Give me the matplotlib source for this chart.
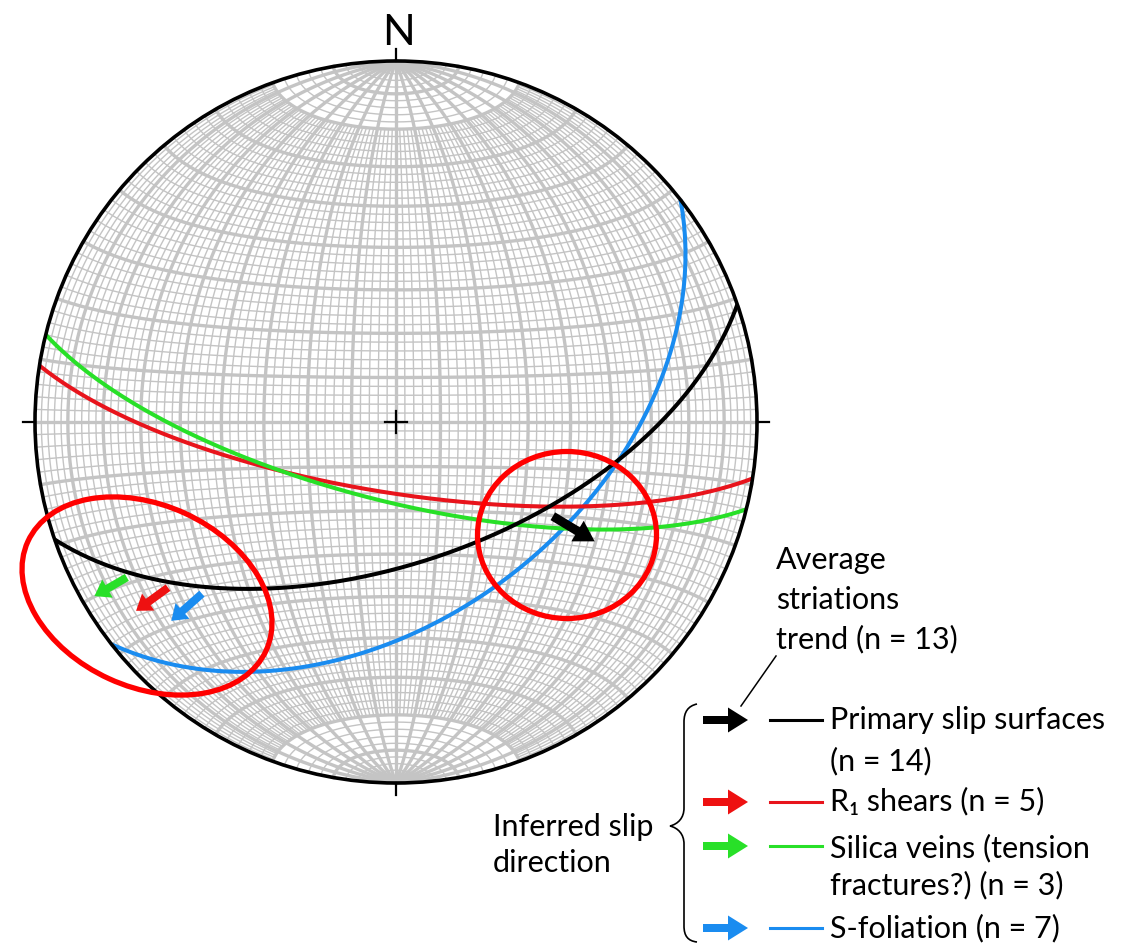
import numpy as np
import matplotlib
matplotlib.use('Agg')
import matplotlib.pyplot as plt
from matplotlib.patches import Ellipse, Circle, PathPatch
from matplotlib.path import Path

# planes: dip direction / dip (lower hemisphere, equal-area net)
plane_names = ['Primary slip surfaces', 'R1 shears', 'Silica veins', 'S-foliation']
plane_dipdir = [161, 189, 194, 142]
plane_dip = [58, 74, 72, 46]
plane_colors = ['#000000', '#e8141c', '#28e028', '#1a8cf0']

# slip arrows: trend, plunge at tail, plunge at head
avg_trend, avg_pl0, avg_pl1 = 121, 48, 36
slip_trend = [234, 240, 228.5]          # red, green, blue
slip_pl0 = [23, 15, 29]
slip_pl1 = [12, 4, 18]
slip_colors = ['#ee1111', '#28e028', '#1a8cf0']

legend_arrow_colors = ['#000000', '#ee1111', '#28e028', '#1a8cf0']
legend_lines = [['Primary slip surfaces', '(n = 14)'], ['R\u2081 shears (n = 5)'],
                ['Silica veins (tension', 'fractures?) (n = 3)'], ['S-foliation (n = 7)']]
note_lines = ['Average', 'striations', 'trend (n = 13)']

CX, CY, RP = 396, 422, 361  # net centre and radius in pixels
W, H = 1132, 944
grid_c = '#c4c4c4'
FONT = ['Lato', 'DejaVu Sans']
fs = 22


def P(px, py):
    return (px - CX) / RP, (CY - py) / RP


def net_xy(lam, phi):
    lam, phi = np.radians(lam), np.radians(phi)
    k = 1 / np.sqrt(1 + np.cos(phi) * np.cos(lam))
    return k * np.cos(phi) * np.sin(lam), k * np.sin(phi)


def line_xy(trend, plunge):
    r = np.sqrt(2) * np.sin(np.radians(90 - np.asarray(plunge)) / 2)
    t = np.radians(trend)
    return r * np.sin(t), r * np.cos(t)


def great_circle(dd, dip):
    th = np.radians(np.linspace(0, 180, 400))
    a, d = np.radians(dd), np.radians(dip)
    s = np.array([-np.cos(a), np.sin(a), 0.0])
    dv = np.array([np.cos(d) * np.sin(a), np.cos(d) * np.cos(a), np.sin(d)])
    v = np.outer(np.cos(th), s) + np.outer(np.sin(th), dv)
    trend = np.degrees(np.arctan2(v[:, 0], v[:, 1]))
    plunge = np.degrees(np.arcsin(np.clip(v[:, 2], -1, 1)))
    return line_xy(trend, plunge)


fig = plt.figure(figsize=(W / 100, H / 100), dpi=100)
ax = fig.add_axes([0, 0, 1, 1])
ax.set_xlim(-CX / RP, (W - CX) / RP)
ax.set_ylim(-(H - CY) / RP, CY / RP)
ax.set_aspect('equal')
ax.axis('off')

# Schmidt net
lam = np.linspace(-90, 90, 361)
for lat in range(-88, 89, 2):
    x, y = net_xy(lam, lat)
    ax.plot(x, y, color=grid_c, lw=2.4 if lat % 10 == 0 else 1.0, zorder=1)
for lon in range(-88, 89, 2):
    lim = 90 if lon % 10 == 0 else 70
    x, y = net_xy(lon, np.linspace(-lim, lim, 300))
    ax.plot(x, y, color=grid_c, lw=2.4 if lon % 10 == 0 else 1.0, zorder=1)

ax.add_patch(Circle((0, 0), 1, fill=False, lw=2.6, color='k', zorder=5))
tick = 12 / RP
ax.plot([0, 0], [1, 1 + tick], color='k', lw=1.6)
ax.plot([0, 0], [-1, -1 - tick], color='k', lw=1.6)
ax.plot([-1, -1 - tick], [0, 0], color='k', lw=1.6)
ax.plot([1, 1 + tick], [0, 0], color='k', lw=1.6)
cr = 11 / RP
ax.plot([-cr, cr], [0, 0], color='k', lw=1.6, zorder=5)
ax.plot([0, 0], [-cr, cr], color='k', lw=1.6, zorder=5)
ax.text(*P(398, 45), 'N', fontsize=31, ha='center', va='baseline', family=FONT)

# great circles (blue first so black sits on top)
for i in [3, 1, 2, 0]:
    x, y = great_circle(plane_dipdir[i], plane_dip[i])
    ax.plot(x, y, color=plane_colors[i], lw=2.9, zorder=4, solid_capstyle='butt')


def arrow(x0, y0, x1, y1, color, sw, hw, hl):
    ax.arrow(x0, y0, x1 - x0, y1 - y0, width=sw / RP, head_width=hw / RP,
             head_length=hl / RP, length_includes_head=True, color=color,
             lw=0, zorder=6, clip_on=False)


arrow(*line_xy(avg_trend, avg_pl0), *line_xy(avg_trend, avg_pl1), 'k', 9, 24, 20)
for t, a, b, c in zip(slip_trend, slip_pl0, slip_pl1, slip_colors):
    arrow(*line_xy(t, a), *line_xy(t, b), c, 8, 21, 15)

# highlight ellipses
ax.add_patch(Ellipse(P(147, 596), 262 / RP, 182 / RP, angle=-24.6, fill=False,
                     color='#ff0000', lw=3.8, zorder=7))
ax.add_patch(Ellipse(P(567, 535), 179 / RP, 167 / RP, angle=0, fill=False,
                     color='#ff0000', lw=3.8, zorder=7))

# annotation
for txt, yb in zip(note_lines, [569, 609, 648]):
    ax.text(*P(776, yb), txt, fontsize=fs, va='baseline', ha='left', family=FONT)
ax.plot(*zip(P(776, 656), P(741, 706)), color='k', lw=1.1)
ax.text(*P(493, 836), 'Inferred slip', fontsize=fs, va='baseline', family=FONT)
ax.text(*P(493, 872), 'direction', fontsize=fs, va='baseline', family=FONT)

# brace
bp = [(697, 704), (688, 706), (684, 712), (684, 722),
      (684, 808), (684, 818), (678, 824), (670, 826),
      (678, 828), (684, 834), (684, 844),
      (684, 926), (684, 936), (688, 941), (697, 942)]
codes = [Path.MOVETO] + [Path.CURVE4] * 3 + [Path.LINETO] + [Path.CURVE4] * 6 + \
        [Path.LINETO] + [Path.CURVE4] * 3
ax.add_patch(PathPatch(Path([P(*q) for q in bp], codes), fill=False, lw=1.2,
                       color='k', clip_on=False))

# legend rows
rows_y = [720, 802, 846, 928]
text_base = [[729, 770], [810], [857, 894], [937]]
for i, ly in enumerate(rows_y):
    arrow(*P(703, ly), *P(748, ly), legend_arrow_colors[i], 8, 25, 20)
    ax.plot(*zip(P(770, ly), P(822, ly)), color=plane_colors[i], lw=2.2)
    for txt, tb in zip(legend_lines[i], text_base[i]):
        ax.text(*P(830, tb), txt, fontsize=fs, va='baseline', ha='left', family=FONT)

fig.savefig('out.png', dpi=100)
